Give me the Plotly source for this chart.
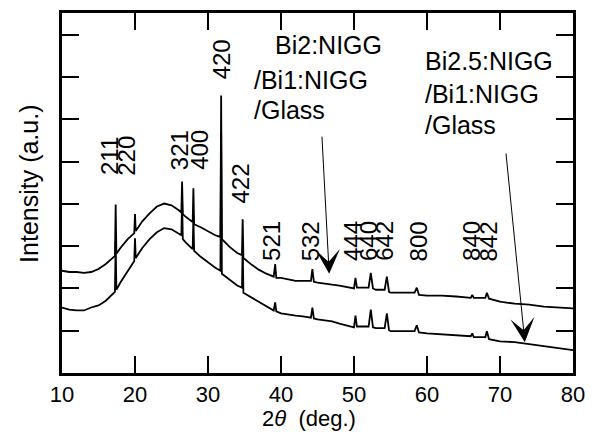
import plotly.graph_objects as go

# ---- data ----
two_theta = [10, 11, 12, 13, 14, 15, 16, 17, 17.25, 17.35, 17.45, 18, 19, 19.9, 20, 20.1,
             21, 22, 23, 24, 25, 26, 26.35, 26.45, 26.55, 27, 27.9, 28, 28.1, 29, 30, 31,
             31.7, 31.8, 31.9, 33, 34, 34.65, 34.75, 34.85, 36, 37, 38, 39, 39.2, 39.35,
             40, 41, 42, 43, 44.1, 44.3, 44.5, 45, 46, 47, 48, 49, 50, 50.2, 50.4, 51,
             52, 52.3, 52.6, 53, 54.2, 54.5, 54.8, 55, 56, 57, 58.3, 58.6, 58.9, 60, 62,
             64, 66, 66.2, 66.4, 68, 68.2, 68.5, 70, 72, 74, 76, 78, 80]

bi2_on_bi1_glass = [2.42, 2.39, 2.39, 2.37, 2.39, 2.46, 2.58, 2.75, 2.77, 3.99, 2.82, 2.96, 3.17,
                    3.31, 3.76, 3.36, 3.59, 3.78, 3.94, 4.01, 3.97, 3.85, 3.80, 4.53, 3.76, 3.69,
                    3.57, 4.37, 3.52, 3.45, 3.36, 3.26, 3.22, 6.57, 3.17, 2.98, 2.84, 2.79, 3.64,
                    2.72, 2.56, 2.44, 2.35, 2.28, 2.58, 2.25, 2.25, 2.21, 2.18, 2.18, 2.18, 2.46,
                    2.16, 2.14, 2.11, 2.09, 2.07, 2.04, 2.00, 2.25, 2.02, 2.02, 2.02, 2.37, 2.00,
                    1.97, 1.97, 2.28, 1.92, 1.90, 1.90, 1.90, 1.90, 2.02, 1.85, 1.83, 1.83, 1.81,
                    1.78, 1.85, 1.78, 1.78, 1.90, 1.76, 1.69, 1.64, 1.62, 1.57, 1.55, 1.53]

bi25_on_bi1_glass = [1.55, 1.50, 1.48, 1.48, 1.55, 1.60, 1.71, 1.88, 1.92, 3.12, 1.97, 2.14, 2.42,
                     2.65, 3.19, 2.72, 2.96, 3.17, 3.33, 3.43, 3.40, 3.31, 3.26, 4.06, 3.17, 3.08,
                     2.93, 3.71, 2.89, 2.75, 2.61, 2.49, 2.42, 5.70, 2.35, 2.21, 2.07, 2.02, 3.00,
                     1.90, 1.78, 1.67, 1.57, 1.48, 1.67, 1.46, 1.41, 1.38, 1.36, 1.34, 1.31, 1.55,
                     1.29, 1.27, 1.24, 1.22, 1.17, 1.13, 1.08, 1.36, 1.10, 1.10, 1.10, 1.50, 1.08,
                     1.06, 1.06, 1.41, 1.01, 0.99, 0.99, 0.99, 0.99, 1.13, 0.96, 0.94, 0.92, 0.89,
                     0.87, 0.94, 0.85, 0.85, 0.99, 0.80, 0.75, 0.73, 0.68, 0.63, 0.59, 0.54]

peak_labels = ["211", "220", "321", "400", "420", "422", "521", "532",
               "444", "640", "642", "800", "840", "842"]
peak_label_x = [16.6, 18.9, 26.2, 28.9, 31.9, 34.5, 38.6, 44.0,
                49.7, 51.9, 54.2, 58.8, 66.0, 68.4]
peak_label_y = [5.14, 5.14, 5.28, 5.28, 7.42, 4.48, 3.12, 3.12,
                3.12, 3.12, 3.12, 3.12, 3.12, 3.12]

x_ticks = [10, 20, 30, 40, 50, 60, 70, 80]
y_ticks = [0, 1, 2, 3, 4, 5, 6, 7, 8]

FONT = "Arial, Liberation Sans, sans-serif"

fig = go.Figure()
for ys in (bi2_on_bi1_glass, bi25_on_bi1_glass):
    fig.add_trace(go.Scatter(x=two_theta, y=ys, mode="lines",
                             line=dict(color="black", width=1.8),
                             showlegend=False, hoverinfo="skip"))

annotations = []
for t, x, y in zip(peak_labels, peak_label_x, peak_label_y):
    annotations.append(dict(x=x, y=y, xref="x", yref="y", text=t, showarrow=False,
                            textangle=-90, font=dict(family=FONT, size=24, color="black"),
                            xanchor="center", yanchor="middle"))

# sample names
sample_lines = [
    ("Bi2:NIGG", 0.413, 0.912), ("/Bi1:NIGG", 0.372, 0.815), ("/Glass", 0.372, 0.730),
    ("Bi2.5:NIGG", 0.706, 0.868), ("/Bi1:NIGG", 0.706, 0.774), ("/Glass", 0.706, 0.689),
]
for t, x, y in sample_lines:
    annotations.append(dict(x=x, y=y, xref="paper", yref="paper", text=t,
                            showarrow=False, xanchor="left", yanchor="middle",
                            font=dict(family=FONT, size=25, color="black")))

# arrows (tail -> tip on curve)
for (tx, ty), (hx, hy) in [((45.6, 5.63), (46.6, 2.35)), ((70.8, 5.23), (73.4, 0.73))]:
    annotations.append(dict(x=hx, y=hy, xref="x", yref="y", ax=tx, ay=ty,
                            axref="x", ayref="y", text="", showarrow=True,
                            arrowhead=3, arrowsize=4, arrowwidth=1.0,
                            arrowcolor="black"))

# axis titles
annotations.append(dict(x=0.483, y=-0.127, xref="paper", yref="paper",
                        text="2<i>θ</i>  (deg.)", showarrow=False,
                        xanchor="center", yanchor="middle",
                        font=dict(family=FONT, size=22, color="black")))
annotations.append(dict(x=-0.066, y=0.526, xref="paper", yref="paper",
                        text="Intensity (a.u.)", showarrow=False, textangle=-90,
                        xanchor="center", yanchor="middle",
                        font=dict(family=FONT, size=25, color="black")))

fig.update_layout(
    width=582, height=423,
    margin=dict(l=54, r=17, t=2, b=58),
    plot_bgcolor="white", paper_bgcolor="white",
    annotations=annotations,
    xaxis=dict(range=[10, 80], tickvals=x_ticks, ticktext=[str(v) for v in x_ticks],
               ticks="inside", ticklen=17, tickwidth=2, tickcolor="black",
               showline=True, linewidth=2.5, linecolor="black", mirror="allticks",
               showgrid=False, zeroline=False,
               tickfont=dict(family=FONT, size=22, color="black")),
    yaxis=dict(range=[0, 8.52], tickvals=y_ticks, showticklabels=False,
               ticks="inside", ticklen=17, tickwidth=2, tickcolor="black",
               showline=True, linewidth=2.5, linecolor="black", mirror="allticks",
               showgrid=False, zeroline=False),
)

fig.write_html("out.html")
